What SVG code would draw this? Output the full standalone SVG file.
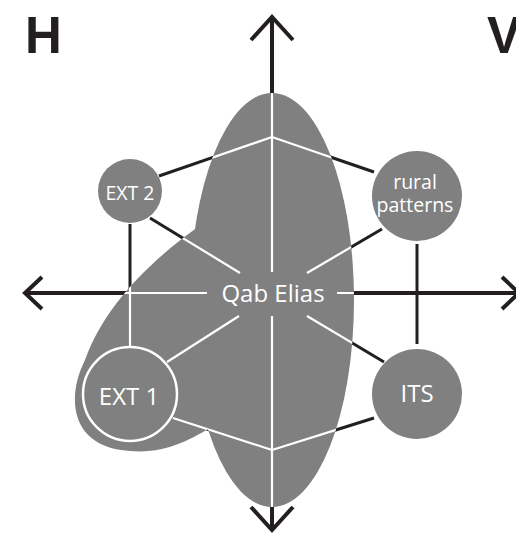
<svg xmlns="http://www.w3.org/2000/svg" width="516" height="536" viewBox="0 0 516 536">
<style>
.blk{stroke:#231f20;fill:none;stroke-width:3;stroke-linecap:butt}
.axis{stroke:#231f20;fill:none;stroke-width:4}
.wht{stroke:#ffffff;fill:none;stroke-width:2.2}
.gray{fill:#808080}
.lbl{font-family:"Open Sans","Noto Sans",sans-serif;fill:#ffffff;text-anchor:middle}
.big{font-family:"Liberation Sans",Arial,sans-serif;font-weight:bold;fill:#231f20;font-size:51px}
</style>
<defs>
<clipPath id="shapeClip">
<ellipse cx="272" cy="300" rx="82" ry="207"/>
<path d="M240,200 C180,235 110,290 85,360 C65,400 72,448 130,451 C165,454 190,440 215,425 Z"/>
</clipPath>
<g id="lines">
<line x1="272" y1="17" x2="272" y2="272"/>
<line x1="272" y1="316" x2="272" y2="530"/>
<line x1="25" y1="293" x2="207" y2="293"/>
<line x1="337" y1="293" x2="516" y2="293"/>
<line x1="272" y1="137" x2="159" y2="176"/>
<line x1="272" y1="137" x2="374" y2="172"/>
<line x1="272" y1="450" x2="173" y2="418"/>
<line x1="272" y1="450" x2="374" y2="418"/>
<line x1="130" y1="224" x2="130" y2="346"/>
<line x1="417" y1="244" x2="417" y2="344"/>
<line x1="240" y1="273" x2="150" y2="218"/>
<line x1="307" y1="273" x2="382" y2="229"/>
<line x1="239" y1="316" x2="167" y2="362"/>
<line x1="307" y1="316" x2="384" y2="362"/>
</g>
</defs>
<text class="big" x="25" y="53">H</text>
<text class="big" x="487" y="53">V</text>
<g id="connectors">
<g class="blk">
<line x1="272" y1="137" x2="159" y2="176"/>
<line x1="272" y1="137" x2="374" y2="172"/>
<line x1="272" y1="450" x2="173" y2="418"/>
<line x1="272" y1="450" x2="374" y2="418"/>
<line x1="130" y1="224" x2="130" y2="346"/>
<line x1="417" y1="244" x2="417" y2="344"/>
<line x1="240" y1="273" x2="150" y2="218"/>
<line x1="307" y1="273" x2="382" y2="229"/>
<line x1="239" y1="316" x2="167" y2="362"/>
<line x1="307" y1="316" x2="384" y2="362"/>
</g>
<g class="axis">
<line x1="272" y1="17" x2="272" y2="272"/>
<line x1="272" y1="316" x2="272" y2="530"/>
<line x1="25" y1="293" x2="207" y2="293"/>
<line x1="337" y1="293" x2="516" y2="293"/>
<polyline points="251,40 272,17 293,40"/>
<polyline points="42,277 25,293 42,309"/>
<polyline points="502,277 519,293 502,309"/>
<polyline points="251,507 272,530 293,507"/>
</g>
</g>
<g id="region">
<ellipse class="gray" cx="272" cy="300" rx="82" ry="207"/>
<path class="gray" d="M240,200 C180,235 110,290 85,360 C65,400 72,448 130,451 C165,454 190,440 215,425 Z"/>
</g>
<g id="connectors-inner" class="wht" clip-path="url(#shapeClip)">
<use href="#lines"/>
</g>
<g id="node-qab-elias">
<text class="lbl" x="273" y="302" font-size="24">Qab Elias</text>
</g>
<g id="node-ext2">
<circle class="gray" cx="130" cy="191" r="32"/>
<text class="lbl" x="130" y="200" font-size="19.5">EXT 2</text>
</g>
<g id="node-rural">
<circle class="gray" cx="417" cy="196" r="45"/>
<text class="lbl" x="415" y="189" font-size="19.5">rural</text>
<text class="lbl" x="415" y="212" font-size="19.5">patterns</text>
</g>
<g id="node-ext1">
<circle cx="130" cy="394" r="47" fill="#808080" stroke="#ffffff" stroke-width="2.5"/>
<text class="lbl" x="129" y="405" font-size="24">EXT 1</text>
</g>
<g id="node-its">
<circle class="gray" cx="417" cy="394" r="45"/>
<text class="lbl" x="417" y="402" font-size="24">ITS</text>
</g>
</svg>
